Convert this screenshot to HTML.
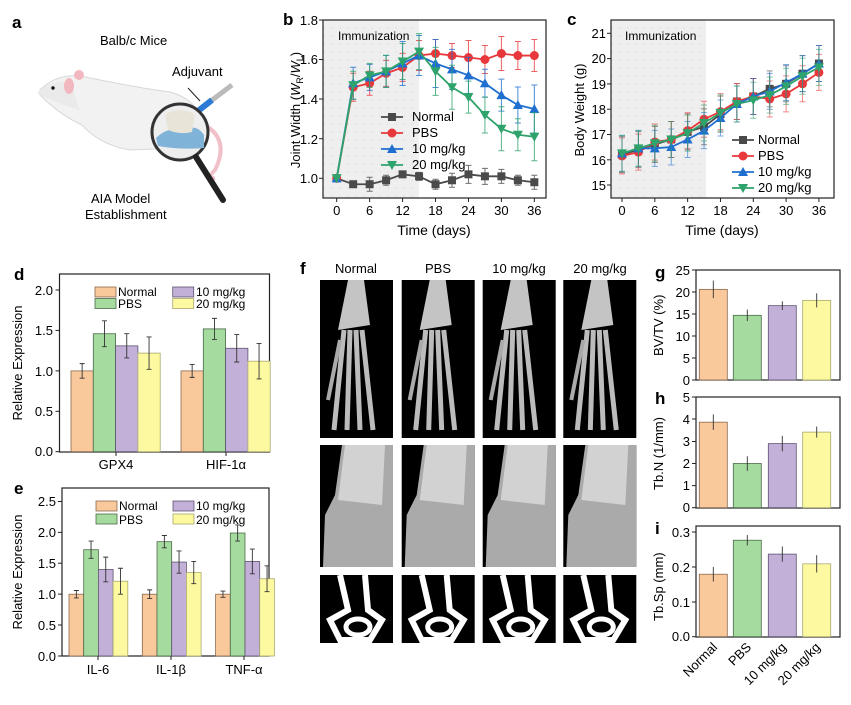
<!DOCTYPE html>
<html><head><meta charset="utf-8"><style>
body{margin:0;background:#fff}
svg{display:block;font-family:"Liberation Sans",sans-serif}
</style></head><body>
<svg id="s" width="851" height="705" viewBox="0 0 851 705" xmlns="http://www.w3.org/2000/svg">
<defs>
<pattern id="dots" width="8" height="8" patternUnits="userSpaceOnUse"><rect width="8" height="8" fill="#efefef"/><circle cx="4" cy="4" r="0.8" fill="#dcdcdc"/></pattern>
</defs>
<!-- panel a -->
<text x="12" y="28" font-size="17" font-weight="bold">a</text>
<text x="100" y="45" font-size="13">Balb/c Mice</text>
<text x="172" y="76" font-size="13">Adjuvant</text>
<path d="M40 90 Q60 70 90 78 Q140 88 170 92 Q200 100 205 130 Q200 150 180 148 L130 150 Q100 145 82 125 Q60 115 40 95Z" fill="#f2f2f2" stroke="#d8d8d8"/>
<path d="M38 92 Q50 80 70 82 L80 110 Q60 105 38 94Z" fill="#eaeaea"/>
<ellipse cx="69" cy="86" rx="5" ry="8" fill="#f2b8c0"/>
<ellipse cx="79" cy="75" rx="5" ry="5" fill="#f2b8c0"/>
<circle cx="53" cy="88" r="1.7" fill="#111"/>
<path d="M205 125 Q230 140 215 170 Q205 180 215 178" stroke="#f0c0c8" stroke-width="4" fill="none"/>
<path d="M195 113 L232 85" stroke="#bbb" stroke-width="5"/>
<path d="M198 111 L212 100" stroke="#2b7bd6" stroke-width="6"/>
<path d="M188 88 L200 101" stroke="#222" stroke-width="1"/>
<circle cx="180" cy="132" r="28" fill="#eee" stroke="#333" stroke-width="3"/>
<path d="M156 138 Q170 125 182 132 Q195 122 204 135 L204 148 Q180 150 158 146Z" fill="#7fb3d8"/>
<path d="M165 115 Q180 105 195 115 L192 132 Q180 135 168 130Z" fill="#e8e4d8"/>
<path d="M196 157 L223 200" stroke="#222" stroke-width="6" stroke-linecap="round"/>
<text x="91" y="203" font-size="13">AIA Model</text>
<text x="85" y="219" font-size="13">Establishment</text>

<!-- panel b -->
<text x="283" y="25" font-size="17" font-weight="bold">b</text>
<rect x="323" y="20" width="96" height="178" fill="url(#dots)"/>
<rect x="323" y="20" width="223" height="178" fill="none" stroke="#222" stroke-width="1.2"/>
<text x="338" y="40" font-size="12">Immunization</text>
<g font-size="13" text-anchor="end">
<text x="318" y="25">1.8</text><text x="318" y="64">1.6</text><text x="318" y="104">1.4</text><text x="318" y="144">1.2</text><text x="318" y="183">1.0</text>
</g>
<g font-size="13" text-anchor="middle">
<text x="336.7" y="215">0</text><text x="369.6" y="215">6</text><text x="402.6" y="215">12</text><text x="435.5" y="215">18</text><text x="468.5" y="215">24</text><text x="501.4" y="215">30</text><text x="534.3" y="215">36</text>
<text x="434" y="235" font-size="14">Time (days)</text>
</g>
<text transform="translate(300,110) rotate(-90)" font-size="13" text-anchor="middle">Joint Width (<tspan font-style="italic">W</tspan><tspan font-size="9" dy="3">R</tspan><tspan dy="-3">/</tspan><tspan font-style="italic">W</tspan><tspan font-size="9" dy="3">L</tspan><tspan dy="-3">)</tspan></text>
<g font-size="13">
<text x="412" y="121">Normal</text><text x="412" y="137">PBS</text><text x="412" y="153">10 mg/kg</text><text x="412" y="169">20 mg/kg</text>
</g>

<!-- panel c -->
<text x="567" y="25" font-size="17" font-weight="bold">c</text>
<rect x="611" y="20" width="95" height="178" fill="url(#dots)"/>
<rect x="611" y="20" width="223" height="178" fill="none" stroke="#222" stroke-width="1.2"/>
<text x="625" y="40" font-size="12">Immunization</text>
<g font-size="13" text-anchor="end">
<text x="606" y="38">21</text><text x="606" y="63">20</text><text x="606" y="89">19</text><text x="606" y="114">18</text><text x="606" y="139">17</text><text x="606" y="165">16</text><text x="606" y="190">15</text>
</g>
<g font-size="13" text-anchor="middle">
<text x="622" y="215">0</text><text x="654.8" y="215">6</text><text x="687.6" y="215">12</text><text x="720.5" y="215">18</text><text x="753.3" y="215">24</text><text x="786.1" y="215">30</text><text x="819" y="215">36</text>
<text x="722" y="235" font-size="14">Time (days)</text>
</g>
<text transform="translate(584,110) rotate(-90)" font-size="13" text-anchor="middle">Body Weight (g)</text>
<g font-size="13">
<text x="758" y="144">Normal</text><text x="758" y="160">PBS</text><text x="758" y="176">10 mg/kg</text><text x="758" y="192">20 mg/kg</text>
</g>

<!-- panel d -->
<text x="14" y="280" font-size="17" font-weight="bold">d</text>
<rect x="59.5" y="274" width="210" height="178" fill="none" stroke="#222" stroke-width="1.2"/>
<g font-size="13" text-anchor="end">
<text x="53" y="295">2.0</text><text x="53" y="335">1.5</text><text x="53" y="376">1.0</text><text x="53" y="416">0.5</text><text x="53" y="456">0.0</text>
</g>
<g font-size="13" text-anchor="middle"><text x="116" y="469">GPX4</text><text x="226" y="469">HIF-1α</text></g>
<text transform="translate(22,363) rotate(-90)" font-size="13" text-anchor="middle">Relative Expression</text>
<g font-size="12"><text x="118" y="296">Normal</text><text x="118" y="308">PBS</text><text x="196" y="296">10 mg/kg</text><text x="196" y="308">20 mg/kg</text></g>

<!-- panel e -->
<text x="14" y="494" font-size="17" font-weight="bold">e</text>
<rect x="62" y="488" width="207" height="168" fill="none" stroke="#222" stroke-width="1.2"/>
<g font-size="13" text-anchor="end">
<text x="56" y="506">2.5</text><text x="56" y="537">2.0</text><text x="56" y="568">1.5</text><text x="56" y="599">1.0</text><text x="56" y="630">0.5</text><text x="56" y="661">0.0</text>
</g>
<g font-size="13" text-anchor="middle"><text x="98" y="674">IL-6</text><text x="171" y="674">IL-1β</text><text x="244" y="674">TNF-α</text></g>
<text transform="translate(22,572) rotate(-90)" font-size="13" text-anchor="middle">Relative Expression</text>
<g font-size="12"><text x="119" y="510">Normal</text><text x="119" y="524">PBS</text><text x="196" y="510">10 mg/kg</text><text x="196" y="524">20 mg/kg</text></g>

<!-- panel f -->
<text x="300" y="274" font-size="17" font-weight="bold">f</text>
<g font-size="13" text-anchor="middle"><text x="356" y="273">Normal</text><text x="438" y="273">PBS</text><text x="519" y="273">10 mg/kg</text><text x="600" y="273">20 mg/kg</text></g>
<g id="fimg"></g>

<!-- panels g h i -->
<text x="655" y="278" font-size="17" font-weight="bold">g</text>
<text x="655" y="404" font-size="17" font-weight="bold">h</text>
<text x="655" y="534" font-size="17" font-weight="bold">i</text>
<rect x="696" y="270" width="144" height="110" fill="none" stroke="#222" stroke-width="1.2"/>
<rect x="696" y="397" width="144" height="111" fill="none" stroke="#222" stroke-width="1.2"/>
<rect x="696" y="526" width="144" height="111" fill="none" stroke="#222" stroke-width="1.2"/>
<g font-size="13" text-anchor="end">
<text x="690" y="275">25</text><text x="690" y="297">20</text><text x="690" y="319">15</text><text x="690" y="341">10</text><text x="690" y="363">5</text><text x="690" y="385">0</text>
<text x="690" y="402">5</text><text x="690" y="424">4</text><text x="690" y="446">3</text><text x="690" y="468">2</text><text x="690" y="490">1</text><text x="690" y="512">0</text>
<text x="690" y="537">0.3</text><text x="690" y="572">0.2</text><text x="690" y="607">0.1</text><text x="690" y="641">0.0</text>
</g>
<g font-size="13">
<text transform="translate(663,356) rotate(-90)">BV/TV (%)</text>
<text transform="translate(663,490) rotate(-90)">Tb.N (1/mm)</text>
<text transform="translate(663,621) rotate(-90)">Tb.Sp (mm)</text>
</g>
<g font-size="13" text-anchor="end">
<text transform="translate(718,648) rotate(-45)">Normal</text>
<text transform="translate(752,648) rotate(-45)">PBS</text>
<text transform="translate(787,648) rotate(-45)">10 mg/kg</text>
<text transform="translate(821,648) rotate(-45)">20 mg/kg</text>
</g>
<g id="dyn"></g>
</svg>
<script>
var NS="http://www.w3.org/2000/svg",G=document.getElementById("dyn");
function el(t,a,p){var e=document.createElementNS(NS,t);for(var k in a)e.setAttribute(k,a[k]);(p||G).appendChild(e);return e;}
var SC=["#4a4a4a","#e8383b","#1f6fd0","#2ea36b"];
var BC=["#f9c89b","#a6dba0","#c2b0d8","#fdf9a0"],BS=["#8a6a50","#4a6a48","#5e5470","#a8a870"];
function marker(k,x,y,c){
 if(k==0)el("rect",{x:x-4,y:y-4,width:8,height:8,fill:c});
 else if(k==1)el("circle",{cx:x,cy:y,r:4.5,fill:c});
 else if(k==2)el("path",{d:"M"+x+" "+(y-5)+"L"+(x+5)+" "+(y+4)+"L"+(x-5)+" "+(y+4)+"Z",fill:c});
 else el("path",{d:"M"+x+" "+(y+5)+"L"+(x+5)+" "+(y-4)+"L"+(x-5)+" "+(y-4)+"Z",fill:c});
}
function line(xs,data,fy,err,ax,op){
 data.forEach(function(s,k){
  var pts=s.map(function(v,i){return xs[i]+","+fy(v)}).join(" ");
  s.forEach(function(v,i){var e=err[k][i];if(e){var y=fy(v);el("path",{d:"M"+xs[i]+" "+(y-e)+"V"+(y+e)+"M"+(xs[i]-3)+" "+(y-e)+"h6M"+(xs[i]-3)+" "+(y+e)+"h6",stroke:SC[k],"stroke-width":1,fill:"none",opacity:op});}});
  el("polyline",{points:pts,stroke:SC[k],"stroke-width":1.8,fill:"none"});
  s.forEach(function(v,i){marker(k,xs[i],fy(v),SC[k]);});
 });
 [0,1,2,3].forEach(function(k){var y=ax.ly+16*k;el("path",{d:"M"+ax.lx+" "+y+"h22",stroke:SC[k],"stroke-width":1.8});marker(k,ax.lx+11,y,SC[k]);});
}
var xb=[],xc=[];for(var i=0;i<=12;i++){xb.push(336.7+i*3*5.49);xc.push(622+i*3*5.47);}
line(xb,[[1,.97,.97,.99,1.02,1.01,.97,.99,1.02,1.01,1.01,.99,.98],
[1,1.46,1.48,1.53,1.56,1.62,1.63,1.62,1.61,1.6,1.63,1.62,1.62],
[1,1.48,1.51,1.54,1.58,1.62,1.58,1.55,1.52,1.48,1.42,1.37,1.35],
[1,1.47,1.52,1.54,1.59,1.64,1.54,1.46,1.41,1.32,1.25,1.22,1.21]],
function(v){return 178.3-(v-1)*198},
[[0,3,7,5,0,4,5,7,9,8,7,5,7],[0,14,12,13,14,15,14,12,17,14,17,14,16],[0,16,13,16,22,20,24,20,18,14,16,18,24],[0,14,12,16,18,18,24,22,16,18,22,16,24]],{lx:381,ly:117},0.8);
line(xc,[[16.2,16.4,16.6,16.8,17.1,17.3,17.8,18.3,18.5,18.8,19,19.4,19.8],
[16.15,16.3,16.7,16.8,17.15,17.6,17.9,18.3,18.5,18.4,18.6,19,19.45],
[16.25,16.45,16.45,16.5,16.8,17.15,17.65,18.2,18.5,18.7,19.05,19.4,19.8],
[16.25,16.45,16.65,16.8,17.05,17.45,17.85,18.2,18.35,18.55,18.9,19.3,19.65]],
function(v){return 185-(v-15)*25.3},
[[18,18,18,18,18,18,18,18,18,18,18,18,18],[18,18,18,18,18,18,18,18,18,18,18,18,18],[18,18,18,18,18,18,18,18,18,18,18,18,18],[18,18,18,18,18,18,18,18,18,18,18,18,18]],{lx:732,ly:140},0.6);
function bars(starts,w,vals,errs,fy,y0){
 starts.forEach(function(sx,g){for(var k=0;k<4;k++){var v=vals[g][k],x=sx+k*w,y=fy(v);
  el("rect",{x:x,y:y,width:w,height:y0-y,fill:BC[k],stroke:BS[k],"stroke-width":0.8});
  var e=errs[g][k],cx=x+w/2;el("path",{d:"M"+cx+" "+fy(v+e)+"V"+fy(v-e)+"M"+(cx-2.5)+" "+fy(v+e)+"h5M"+(cx-2.5)+" "+fy(v-e)+"h5",stroke:"#333","stroke-width":0.9,fill:"none"});}});
}
bars([71,181],22.3,[[1,1.46,1.31,1.22],[1,1.52,1.28,1.12]],[[.09,.16,.15,.2],[.08,.13,.17,.22]],function(v){return 451.7-v*80.8},451.7);
bars([69,142.3,215.6],14.7,[[1,1.72,1.4,1.21],[1,1.85,1.52,1.35],[1,1.99,1.53,1.25]],[[.06,.14,.2,.21],[.07,.1,.18,.18],[.05,.13,.2,.21]],function(v){return 656-v*61.8},656);
function bars4(vals,errs,fy,y0){vals.forEach(function(v,k){var cx=[713.3,747.3,782.3,816.7][k],y=fy(v);
 el("rect",{x:cx-14,y:y,width:28,height:y0-y,fill:BC[k],stroke:BS[k],"stroke-width":0.8});
 var e=errs[k];el("path",{d:"M"+cx+" "+fy(v+e)+"V"+fy(v-e),stroke:"#333","stroke-width":0.9});});}
bars4([20.6,14.7,16.9,18.1],[2,1.3,1,1.6],function(v){return 380-v*4.4},380);
bars4([3.87,2,2.9,3.42],[.35,.33,.35,.25],function(v){return 507.7-v*22.1},507.7);
bars4([.18,.278,.238,.21],[.021,.015,.022,.025],function(v){return 636.7-v*347},636.7);
[[95,287,172.7],[96,501,173]].forEach(function(L){[0,1,2,3].forEach(function(k){var x=k<2?L[0]:L[2],y=L[1]+(k%2)*(L[1]>400?13:11.5);el("rect",{x:x,y:y,width:21,height:10,fill:BC[k],stroke:BS[k],"stroke-width":0.8});});});
function yt(x,ys){ys.forEach(function(y){el("path",{d:"M"+x+" "+y+"h-4",stroke:"#222"});});}
yt(323,[20,59.5,99,138.7,178.3]);yt(611,[33.3,58.6,83.9,109.2,134.5,159.8,185]);
yt(59.5,[290,330.4,370.9,411.3,451.7]);yt(62,[501.5,532.4,563.2,594.1,625,656]);
yt(696,[270,292,314,336,358,380]);yt(696,[397,419,441.5,463.5,485.6,507.7]);yt(696,[532,567,602,636.7]);
xb.forEach(function(x,i){if(i%2==0)el("path",{d:"M"+x+" 198v4",stroke:"#222"});});
xc.forEach(function(x,i){if(i%2==0)el("path",{d:"M"+x+" 198v4",stroke:"#222"});});
[116,226].forEach(function(x){el("path",{d:"M"+x+" 452v4",stroke:"#222"})});
[98,171,244].forEach(function(x){el("path",{d:"M"+x+" 656v4",stroke:"#222"})});
var F=document.getElementById("fimg"),cols=[320,401.7,482.7,563.3],rows=[[280,158],[445,122],[575,68]];
cols.forEach(function(cx,c){rows.forEach(function(r,ri){
 el("rect",{x:cx,y:r[0],width:73,height:r[1],fill:"#000"},F);
 if(ri==0){el("path",{d:"M"+(cx+28)+" "+r[0]+"L"+(cx+44)+" "+r[0]+"L"+(cx+50)+" "+(r[0]+45)+"L"+(cx+18)+" "+(r[0]+50)+"Z",fill:"#c4c4c4"},F);
  for(var j=0;j<4;j++)el("path",{d:"M"+(cx+24+j*6)+" "+(r[0]+50)+"L"+(cx+14+j*13)+" "+(r[0]+150),stroke:"#bcbcbc","stroke-width":5,fill:"none"},F);
  el("path",{d:"M"+(cx+20)+" "+(r[0]+60)+"L"+(cx+8)+" "+(r[0]+120),stroke:"#aaa","stroke-width":4},F);}
 else if(ri==1){el("path",{d:"M"+(cx+22)+" "+r[0]+"L"+(cx+73)+" "+r[0]+"L"+(cx+73)+" "+(r[0]+122)+"L"+(cx+3)+" "+(r[0]+122)+"L"+(cx+5)+" "+(r[0]+70)+"L"+(cx+15)+" "+(r[0]+50)+"Z",fill:"#aaaaaa"},F);
  el("path",{d:"M"+(cx+25)+" "+r[0]+"L"+(cx+65)+" "+r[0]+"L"+(cx+62)+" "+(r[0]+60)+"L"+(cx+18)+" "+(r[0]+55)+"Z",fill:"#d2d2d2"},F);}
 else {el("path",{d:"M"+(cx+20)+" "+r[0]+"L"+(cx+28)+" "+(r[0]+35)+"L"+(cx+10)+" "+(r[0]+45)+"L"+(cx+20)+" "+(r[0]+65)+"L"+(cx+50)+" "+(r[0]+65)+"L"+(cx+62)+" "+(r[0]+45)+"L"+(cx+48)+" "+(r[0]+35)+"L"+(cx+45)+" "+r[0],fill:"none",stroke:"#fff","stroke-width":6},F);
  el("ellipse",{cx:cx+38,cy:r[0]+52,rx:12,ry:8,fill:"none",stroke:"#fff","stroke-width":5},F);}
});});
</script>
</body></html>
